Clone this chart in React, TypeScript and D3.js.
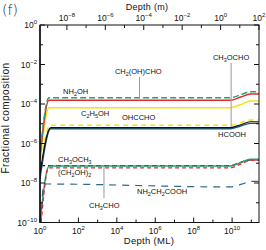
import * as d3 from "d3";
import React from "react";

// plot box (px)
const W = 266;
const H = 250;
const box = { left: 40, right: 259, top: 25, bottom: 222.5 };

// axis domains
const mlExtent = [1, Math.pow(10, 11.4)];
const mExtent = [Math.pow(10, -9.4), 100];
const fracExtent = [1e-10, 1];

const fracTicks = [-10, -9, -8, -7, -6, -5, -4, -3, -2, -1, 0];
const mlTicks = [0, 1, 2, 3, 4, 5, 6, 7, 8, 9, 10, 11];
const mTicks = [-9, -8, -7, -6, -5, -4, -3, -2, -1, 0, 1, 2];

// depth (ML) nodes and fractional composition per species
const nh2ohDepth = [1, 2.9, 8e9, 2.8e10, 9e10, 2.5e11];
const nh2ohFrac = [2.5e-7, 2.1e-4, 2.1e-4, 2.95e-4, 4.2e-4, 4.2e-4];

const glycolDepth = [1, 2.9, 8e9, 2.8e10, 9e10, 2.5e11];
const glycolFrac = [2e-7, 1.55e-4, 1.55e-4, 2.24e-4, 3.2e-4, 3.2e-4];

const ethanolDepth = [1, 3, 8e9, 2.8e10, 9e10, 2.5e11];
const ethanolFrac = [1.3e-7, 6.5e-5, 6.5e-5, 9.4e-5, 1.4e-4, 1.4e-4];

const glyoxalDepth = [1, 3.4, 8e9, 2.8e10, 9e10, 2.5e11];
const glyoxalFrac = [6e-8, 8.3e-6, 8.3e-6, 1.14e-5, 1.55e-5, 1.55e-5];

const formicDepth = [1, 3.6, 8e9, 2.8e10, 9e10, 2.5e11];
const formicFrac = [3e-8, 6.3e-6, 6.3e-6, 8.9e-6, 1.26e-5, 1.26e-5];

const mformDepth = [1, 3.6, 8e9, 2.8e10, 9e10, 2.5e11];
const mformFrac = [1.6e-8, 5.6e-6, 5.6e-6, 7.7e-6, 1.05e-5, 1.05e-5];

const dmeDepth = [1, 3, 8e9, 2.8e10, 9e10, 2.5e11];
const dmeFrac = [1e-10, 7.2e-8, 7.2e-8, 1.07e-7, 1.6e-7, 1.6e-7];

const acetDepth = [1, 3, 8e9, 2.8e10, 9e10, 2.5e11];
const acetFrac = [7.5e-8, 7.5e-8, 7.5e-8, 1.1e-7, 1.5e-7, 1.5e-7];

const ethgDepth = [1.15, 2.8, 8e9, 2.8e10, 9e10, 2.5e11];
const ethgFrac = [1e-10, 5.9e-8, 5.9e-8, 9e-8, 1.4e-7, 1.4e-7];

const glyDepth = [1.1, 1.6, 8e9, 3.2e10, 9e10, 2.5e11];
const glyFrac = [1e-10, 8.9e-9, 6.3e-9, 8.7e-9, 1.2e-8, 1.2e-8];

const series = [
  { id: "acet", depth: acetDepth, frac: acetFrac, color: "#111", dash: "5,3", w: 1.3 },
  { id: "dme", depth: dmeDepth, frac: dmeFrac, color: "#22a174", dash: null, w: 1.4 },
  { id: "ethg", depth: ethgDepth, frac: ethgFrac, color: "#e5282b", dash: "4,3", w: 1.3 },
  { id: "gly", depth: glyDepth, frac: glyFrac, color: "#2c6a88", dash: "7,6", w: 1.2 },
  { id: "glyoxal", depth: glyoxalDepth, frac: glyoxalFrac, color: "#f3e21a", dash: "5,4", w: 1.5 },
  { id: "mform", depth: mformDepth, frac: mformFrac, color: "#1f5c78", dash: null, w: 1.4 },
  { id: "formic", depth: formicDepth, frac: formicFrac, color: "#111", dash: null, w: 1.2 },
  { id: "ethanol", depth: ethanolDepth, frac: ethanolFrac, color: "#f3e21a", dash: null, w: 1.5 },
  { id: "glycol", depth: glycolDepth, frac: glycolFrac, color: "#e5282b", dash: null, w: 1.5 },
  { id: "nh2oh", depth: nh2ohDepth, frac: nh2ohFrac, color: "#22a174", dash: "6,3", w: 1.5 },
];

// labels: text, log10 depth (ML), log10 fraction at baseline
const labelText = ["NH2OH", "CH2(OH)CHO", "CH3OCHO", "C2H5OH", "OHCCHO", "HCOOH", "CH3OCH3", "(CH2OH)2", "CH3CHO", "NH2CH2COOH"];
const labelDepth = [1.2, 3.9, 9.0, 2.14, 4.27, 9.27, 0.94, 0.94, 2.55, 5.05];
const labelFrac = [-3.49, -2.48, -1.77, -4.6, -4.81, -5.67, -6.94, -7.6, -9.27, -8.56];

// pointer lines: log10 depth, log10 fraction from / to
const pointerDepth = [5.18, 9.95, 3.33];
const pointerFrom = [-2.63, -1.92, -7.14];
const pointerTo = [-3.7, -5.16, -8.76];

const font = "'Liberation Sans', Arial, sans-serif";

const Formula = ({ s, x, y, size }: { s: string; x: number; y: number; size: number }) => {
  const parts = s.match(/\d+|\D+/g) || [];
  let down = false;
  return (
    <text x={x} y={y} fontSize={size} fontFamily={font} fill="#111">
      {parts.map((p, i) => {
        const isSub = /\d/.test(p);
        const dy = isSub ? (down ? 0 : 2) : down ? -2 : 0;
        down = isSub;
        return (
          <tspan key={i} dy={dy} fontSize={isSub ? size * 0.72 : size}>
            {p}
          </tspan>
        );
      })}
    </text>
  );
};

const Pow = ({ e, x, y, anchor }: { e: number; x: number; y: number; anchor: string }) => (
  <text x={x} y={y} fontSize={8.5} fontFamily={font} textAnchor={anchor} fill="#111">
    <tspan>10</tspan>
    <tspan dy={-4} fontSize={6}>
      {e < 0 ? `\u2212${-e}` : `${e}`}
    </tspan>
  </text>
);

export default function App() {
  const x = d3.scaleLog().domain(mlExtent).range([box.left, box.right]);
  const xTop = d3.scaleLog().domain(mExtent).range([box.left, box.right]);
  const y = d3.scaleLog().domain(fracExtent).range([box.bottom, box.top]);
  const line = d3
    .line<[number, number]>()
    .x((d) => x(d[0]))
    .y((d) => y(d[1]))
    .curve(d3.curveMonotoneX);

  return (
    <svg width={W} height={H} style={{ position: "absolute", left: 0, top: 0 }}>
      <rect width={W} height={H} fill="#fff" />
      <defs>
        <clipPath id="pc">
          <rect x={box.left} y={box.top} width={box.right - box.left} height={box.bottom - box.top} />
        </clipPath>
      </defs>

      <g clipPath="url(#pc)">
        {series.map((s) => (
          <path
            key={s.id}
            d={line(s.depth.map((d, i) => [d, s.frac[i]] as [number, number])) || ""}
            fill="none"
            stroke={s.color}
            strokeWidth={s.w}
            strokeDasharray={s.dash || undefined}
          />
        ))}
      </g>

      {pointerDepth.map((d, i) => (
        <line
          key={i}
          x1={x(Math.pow(10, d))}
          x2={x(Math.pow(10, d))}
          y1={y(Math.pow(10, pointerFrom[i]))}
          y2={y(Math.pow(10, pointerTo[i]))}
          stroke="#9a9a9a"
          strokeWidth={1}
        />
      ))}

      {labelText.map((t, i) => (
        <Formula key={t} s={t} x={x(Math.pow(10, labelDepth[i]))} y={y(Math.pow(10, labelFrac[i]))} size={7.5} />
      ))}

      {/* frame */}
      <rect
        x={box.left}
        y={box.top}
        width={box.right - box.left}
        height={box.bottom - box.top}
        fill="none"
        stroke="#111"
        strokeWidth={1}
      />
      <line x1={box.left} x2={box.left} y1={box.top} y2={box.bottom} stroke="#111" strokeWidth={1.5} />

      {/* y ticks left/right */}
      {fracTicks.map((e) => {
        const yy = y(Math.pow(10, e));
        const len = e % 2 === 0 ? 5 : 3;
        return (
          <g key={e}>
            <line x1={box.left} x2={box.left + len} y1={yy} y2={yy} stroke="#111" />
            <line x1={box.right} x2={box.right - len} y1={yy} y2={yy} stroke="#111" />
            {e % 2 === 0 && <Pow e={e} x={box.left - 3} y={yy + 3} anchor="end" />}
          </g>
        );
      })}

      {/* bottom ticks */}
      {mlTicks.map((e) => {
        const xx = x(Math.pow(10, e));
        const len = e % 2 === 0 ? 5 : 3;
        return (
          <g key={e}>
            <line x1={xx} x2={xx} y1={box.bottom} y2={box.bottom - len} stroke="#111" />
            {e % 2 === 0 && <Pow e={e} x={xx} y={box.bottom + 11} anchor="middle" />}
          </g>
        );
      })}

      {/* top ticks */}
      {mTicks.map((e) => {
        const xx = xTop(Math.pow(10, e));
        const len = e % 2 === 0 ? 5 : 3;
        return (
          <g key={e}>
            <line x1={xx} x2={xx} y1={box.top} y2={box.top + len} stroke="#111" />
            {e % 2 === 0 && <Pow e={e} x={xx} y={box.top - 4} anchor="middle" />}
          </g>
        );
      })}

      <text x={147} y={10} fontSize={9} fontFamily={font} textAnchor="middle" letterSpacing={0.3} fill="#111">
        Depth (m)
      </text>
      <text x={149} y={244} fontSize={9.5} fontFamily={font} textAnchor="middle" letterSpacing={0.3} fill="#111">
        Depth (ML)
      </text>
      <text
        transform={`translate(9,118) rotate(-90)`}
        fontSize={10}
        fontFamily={font}
        textAnchor="middle"
        letterSpacing={0.5}
        fill="#111"
      >
        Fractional composition
      </text>
      <text x={2} y={15} fontSize={14} fontFamily="'DejaVu Sans', sans-serif" fontWeight={200} fill="#111">
        (f)
      </text>
    </svg>
  );
}
